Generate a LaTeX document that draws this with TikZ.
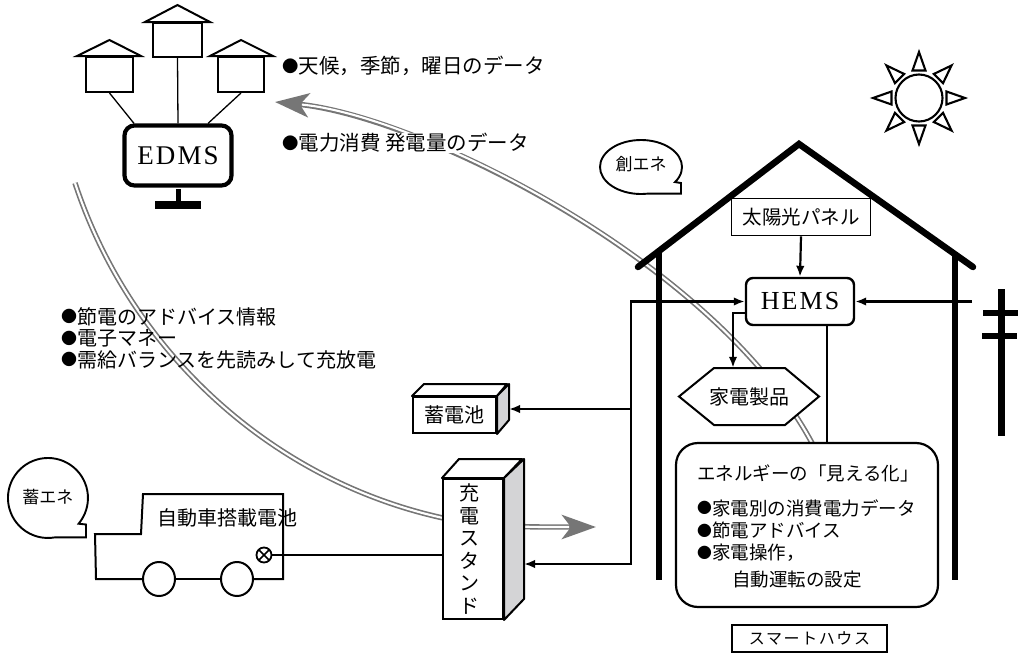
\documentclass[tikz,border=0pt]{standalone}
\usepackage{fontspec}
\newfontfamily\jp{Noto Sans CJK JP}
\newfontfamily\jpsp[LetterSpace=10]{Noto Sans CJK JP}
\newfontfamily\latsp[LetterSpace=8]{Liberation Serif}
\usetikzlibrary{arrows.meta,calc}
\definecolor{arcg}{RGB}{118,118,118}
\definecolor{sideg}{RGB}{212,212,214}
% smaller bullet for the list items
\newcommand\bul{\raisebox{0.06em}{\scalebox{0.8}{●}}}

\begin{document}
\begin{tikzpicture}[x=1pt,y=-1pt,
  conn/.style={line width=2.2pt},
  arr/.style={line width=2.2pt,-{Latex[length=11pt,width=8.5pt]}},
  hut/.style={draw,line width=2pt,fill=white,inner sep=0pt},
  roofline/.style={line width=2pt,line join=miter},
  txt/.style={font=\jp\fontsize{20.5}{22}\selectfont,inner sep=0pt},
  boxtxt/.style={font=\jp\fontsize{18.5}{20}\selectfont,inner sep=0pt,anchor=west},
  gaptxt/.style={font=\jp\fontsize{20}{20}\selectfont,inner sep=0pt},
  bubble/.style={line width=1.9pt,fill=white},
  face/.style={line width=2pt,line join=round},
  bigarc/.style={arcg,line width=5.4pt,-{Stealth[length=34pt,width=24pt,inset=9pt]}},
  arcgap/.style={white,line width=2.1pt}
]
\useasboundingbox (0,0) rectangle (1021,656);

% ---------- data flows (double grey arrows) ----------
\coordinate (a1s) at (812,443);
\coordinate (a1e) at (275,102);
\draw[bigarc] (a1s) .. controls (715,262) and (420,116) .. (a1e);
\draw[arcgap,shorten >=27pt] (a1s) .. controls (715,262) and (420,116) .. (a1e);

\coordinate (a2s) at (75,183);
\coordinate (a2m) at (443,518);
\coordinate (a2e) at (596,527);
\draw[bigarc] (a2s) .. controls (130,350) and (270,480) .. (a2m) .. controls (490,528) and (540,527) .. (a2e);
\draw[arcgap,shorten >=27pt] (a2s) .. controls (130,350) and (270,480) .. (a2m) .. controls (490,528) and (540,527) .. (a2e);

% ---------- houses and EDMS monitor ----------
\node[hut,minimum width=47,minimum height=35] (hA) at (109.5,74.5) {};
\node[hut,minimum width=49,minimum height=34] (hB) at (177.5,40) {};
\node[hut,minimum width=46,minimum height=35] (hC) at (241,74.5) {};
\draw[roofline] ([xshift=-8pt]hA.north west) -- ([yshift=16pt]hA.north) -- ([xshift=7pt]hA.north east) -- cycle;
\draw[roofline] ([xshift=-7pt]hB.north west) -- ([yshift=17pt]hB.north) -- ([xshift=7pt]hB.north east) -- cycle;
\draw[roofline] ([xshift=-7pt]hC.north west) -- ([yshift=16pt]hC.north) -- ([xshift=8pt]hC.north east) -- cycle;

\node[draw,line width=4.2pt,rounded corners=10pt,minimum width=107,minimum height=60,inner sep=0pt,
      font=\latsp\fontsize{27}{27}\selectfont] (edms) at (178,155.5) {EDMS};
\draw[line width=1.3pt] (hA.south) -- ([xshift=-44pt]edms.north);
\draw[line width=1.3pt] (hB.south) -- (edms.north);
\draw[line width=1.3pt] (hC.south) -- ([xshift=30pt]edms.north);
\fill ($(edms.south)+(-2.5,1)$) rectangle ++(5,13);
\fill ($(edms.south)+(-23,13.5)$) rectangle ++(46,8);

% ---------- labels of the data flows ----------
\node[txt,anchor=west] (weather) at (282,66) {\bul 天候，季節，曜日のデータ};
\node[txt,anchor=west,fill=white] (power) at (282,143) {\bul 電力消費\ 発電量のデータ};
\node[txt,anchor=west,align=left,font=\jp\fontsize{20}{21.5}\selectfont] (advice) at (61,338)
  {\bul 節電のアドバイス情報\\\bul 電子マネー\\\bul 需給バランスを先読みして充放電};

% ---------- smart house ----------
\draw[line width=6pt] (659,251) -- (659,580);
\draw[line width=6pt] (955,254) -- (955,580);
\node[draw,line width=1.7pt,fill=white,minimum width=139,minimum height=37,inner sep=0pt,
      font=\jp\fontsize{19.5}{20}\selectfont] (panel) at (801,217) {太陽光パネル};
\draw[line width=6.5pt,line cap=round,line join=miter] (638,267) -- (799,144) -- (973,267);

\node[draw,line width=2.4pt,rounded corners=7pt,fill=white,minimum width=108,minimum height=47,inner sep=0pt,
      font=\latsp\fontsize{26}{26}\selectfont] (hems) at (800,301.5) {HEMS};
\draw[arr] (panel.south) -- (hems.north);

% appliances (hexagon)
\coordinate (applc) at (749,396.5);
\begin{scope}[shift={(applc)}]
  \draw[line width=2pt,fill=white,line join=miter] (-70,0) -- (-35,-28.5) -- (36,-28.5) -- (70,0) -- (36,28.5) -- (-35,28.5) -- cycle;
\end{scope}
\node[minimum width=140,minimum height=57,inner sep=0pt,font=\jp\fontsize{20}{20}\selectfont] (appl) at (applc) {家電製品};
\draw[arr] ([yshift=-11.5pt]hems.west) -| ([xshift=-16pt]appl.north);

% visualisation panel
\node[draw,line width=2.2pt,rounded corners=22pt,fill=white,minimum width=262,minimum height=164] (vis) at (807,525) {};
\node[boxtxt] (v1) at (697,473) {エネルギーの「見える化」};
\node[boxtxt] (v2) at (697,508) {\bul 家電別の消費電力データ};
\node[boxtxt] (v3) at (697,530) {\bul 節電アドバイス};
\node[boxtxt] (v4) at (697,553) {\bul 家電操作，};
\node[boxtxt] (v5) at (732,579) {自動運転の設定};
\draw[conn] ([xshift=27pt]hems.south) -- ([xshift=27pt]hems.south |- vis.north);

\node[draw,line width=1.5pt,minimum width=155,minimum height=27,inner sep=0pt,
      font=\jpsp\fontsize{16}{16}\selectfont] (sh) at (809.5,638.5) {スマートハウス};

% utility pole
\fill (998,289) rectangle (1005,436);
\fill (983,310) rectangle (1018,316);
\fill (982,333) rectangle (1017,339);
\coordinate (pole) at (972,301.5);
\draw[arr] (pole) -- (hems.east);

% ---------- storage battery ----------
\node[draw,line width=2pt,fill=white,minimum width=83,minimum height=36,inner sep=0pt,
      font=\jp\fontsize{20}{20}\selectfont] (batt) at (454.5,415) {蓄電池};
\draw[face,fill=white] (batt.north west) -- ++(12,-12) -- ++(83,0) -- (batt.north east) -- cycle;
\draw[face,fill=sideg] (batt.north east) -- ++(12,-12) -- ++(0,36) -- (batt.south east) -- cycle;
\coordinate (battR) at ([xshift=12pt,yshift=6pt]batt.east);

% ---------- charging stand ----------
\node[draw,line width=2pt,fill=white,minimum width=60,minimum height=140,inner sep=0pt] (stand) at (473,549) {};
\draw[face,fill=white] (stand.north west) -- ++(17,-19) -- ++(63,0) -- (stand.north east) -- cycle;
\draw[face,fill=sideg] (stand.north east) -- ++(20,-19) -- ++(0,140) -- (stand.south east) -- cycle;
\node[align=center,inner sep=0pt,font=\jp\fontsize{20}{22.5}\selectfont] (standtxt) at ([xshift=-4pt]stand.center) {充\\電\\ス\\タ\\ン\\ド};
\coordinate (standR) at ([xshift=20pt]stand.east);

% HEMS bus to battery and stand
\coordinate (busT) at (631,301.5);
\coordinate (busB) at (631,564);
\draw[line width=2.2pt,line join=miter,{Latex[length=11pt,width=8.5pt]}-{Latex[length=11pt,width=8.5pt]}]
  (hems.west) -- (busT) -- (busB) -- (busB -| standR);
\draw[arr] (busT |- battR) -- (battR);

% ---------- electric vehicle ----------
\draw[line width=2pt,line join=miter] (253,579) -- (283,579) -- (283,494) -- (143,494) -- (141,534) -- (95,534) -- (96,579) -- (143,579);
\draw[line width=2pt] (175,579) -- (221,579);
\draw[line width=2pt] (159,579) ellipse[x radius=16,y radius=17];
\draw[line width=2pt] (237,579) ellipse[x radius=16,y radius=17];
\node[gaptxt] (cartxt) at (227,518) {自動車搭載電池};
\node[draw,circle,line width=1.8pt,minimum size=15,inner sep=0pt,fill=white,
      path picture={\draw[line width=1.5pt] (path picture bounding box.north west) -- (path picture bounding box.south east)
                    (path picture bounding box.north east) -- (path picture bounding box.south west);}] (plug) at (264,555) {};
\draw[conn] (plug.east) -- (plug.east -| stand.west);

% ---------- speech bubbles ----------
\draw[bubble] (675,182.1) arc[start angle=34,end angle=-280,x radius=41,y radius=27] -- (681,193.6) -- (681,183) -- cycle;
\node[font=\jp\fontsize{17}{17}\selectfont,inner sep=0pt] (sou) at (641,164) {創エネ};
\draw[bubble] (78.6,523.7) arc[start angle=40,end angle=-280,x radius=40,y radius=40] -- (86,537.4) -- (86,524.5) -- cycle;
\node[font=\jp\fontsize{17}{17}\selectfont,inner sep=0pt] (chiku) at (48,497) {蓄エネ};

% ---------- sun ----------
\begin{scope}[shift={(919,98)},line width=2.1pt,line join=miter]
  \draw (0,0) circle[radius=23.5];
  \foreach \a in {0,45,...,315}
    \draw[rotate=\a] (27.5,-6.5) -- (46,0) -- (27.5,6.5) -- cycle;
\end{scope}
\end{tikzpicture}
\end{document}
